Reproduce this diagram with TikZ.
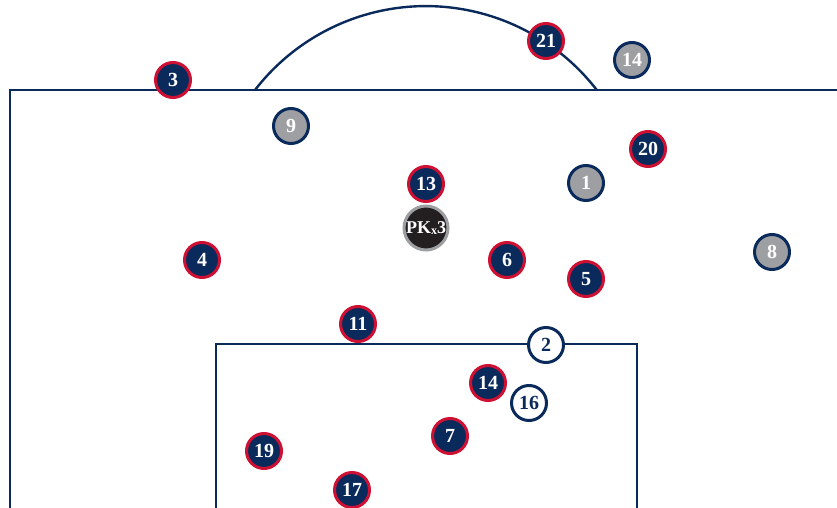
\documentclass[tikz,border=0pt]{standalone}
\usepackage{fontspec}
\setmainfont{Liberation Serif}
\usepackage{tikz}
\usetikzlibrary{positioning}
\usepackage{xcolor}
\definecolor{teamnavy}{RGB}{10,42,92}
\definecolor{teamred}{RGB}{206,17,50}
\definecolor{oppgray}{RGB}{158,159,163}
\definecolor{pkblack}{RGB}{35,31,32}

\begin{document}
\begin{tikzpicture}[x=1pt, y=-1pt,
    pitch/.style={draw=teamnavy, line width=2.4pt},
    player/.style={circle, minimum size=35pt, inner sep=0pt, line width=3pt,
                   font=\fontsize{20}{20}\selectfont\bfseries},
    home/.style={player, fill=teamnavy, draw=teamred, text=white},
    away/.style={player, fill=oppgray, draw=teamnavy, text=white},
    free/.style={player, fill=white, draw=teamnavy, text=teamnavy},
    spot/.style={circle, minimum size=44pt, inner sep=0pt, line width=3pt,
                 fill=pkblack, draw=oppgray, text=white,
                 font=\fontsize{18}{18}\selectfont\bfseries},
]
\useasboundingbox (0,0) rectangle (837,508);

% pitch lines
\draw[pitch] (10,508) -- (10,90) -- (837,90);
\draw[pitch] (255,90) arc[start angle=-142.3, end angle=-37.7, radius=216];
\draw[pitch] (216,508) -- (216,344) -- (637,344) -- (637,508);

% players outside the box
\node[home] (h21) at (546,41) {21};
\node[away] (a14) at (632,60) {14};
\node[home] (h3)  at (173,80) {3};
\node[away] (a9)  at (291,126) {9};
\node[home] (h20) at (648,149) {20};
\node[home] (h13) at (426,184) {13};
\node[away] (a1)  at (586,183) {1};
\node[home] (h4)  at (202,260) {4};
\node[home] (h6)  at (507,260) {6};
\node[home] (h5)  at (586,279) {5};
\node[away] (a8)  at (772,252) {8};
\node[home] (h11) at (358,324) {11};

% penalty spot
\node[spot] (pk) at (426,228) {PK\raisebox{-1pt}{\fontsize{12}{12}\selectfont x}3};

% players in the box
\node[free] (f2)  at (546,345) {2};
\node[home] (h14) at (488,383) {14};
\node[free] (f16) at (529,403) {16};
\node[home] (h7)  at (450,436) {7};
\node[home] (h19) at (264,451) {19};
\node[home] (h17) at (352,490) {17};

\end{tikzpicture}
\end{document}
